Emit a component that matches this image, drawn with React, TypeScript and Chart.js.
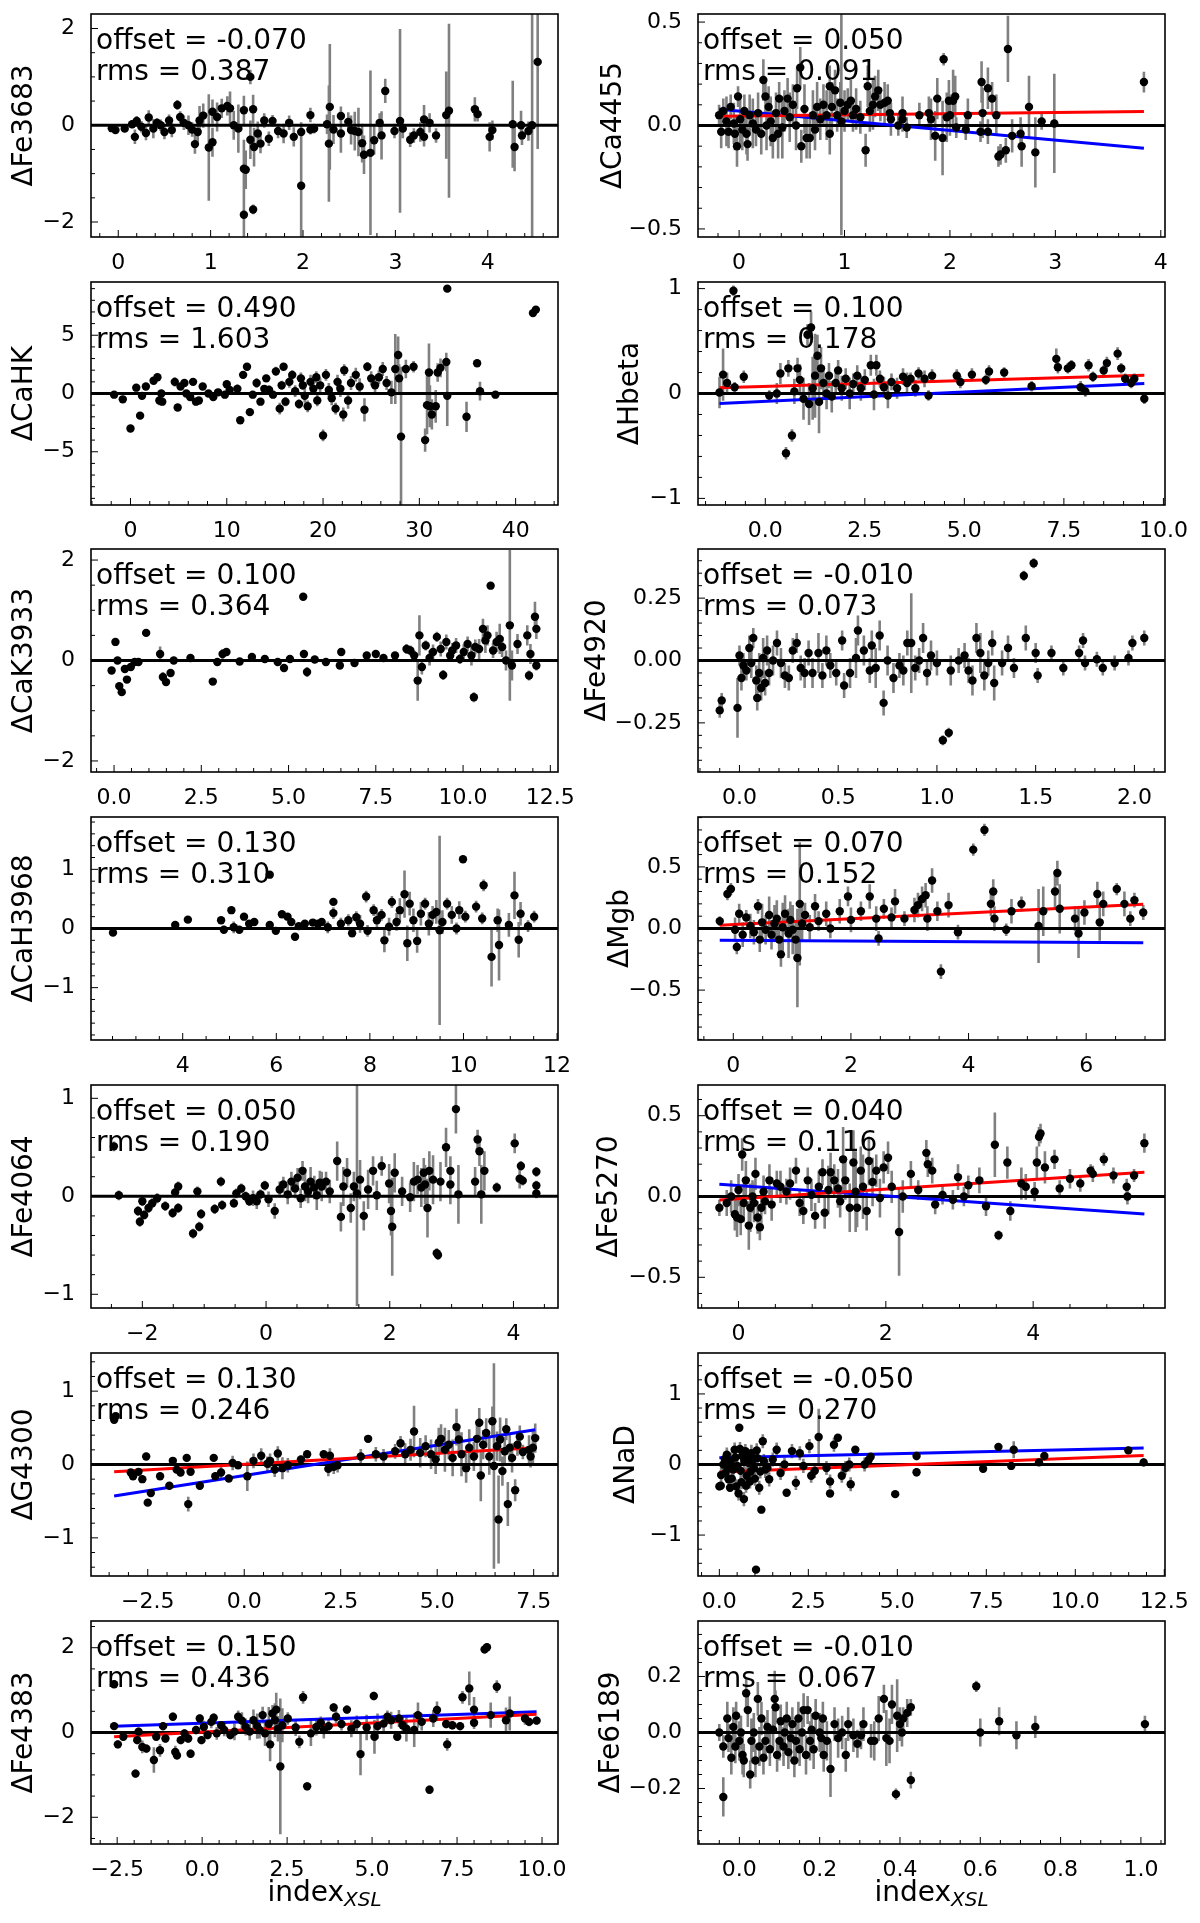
import { useEffect, useRef } from "react"
import { Chart, registerables } from "chart.js"

Chart.register(...registerables)

type Pt = [number, number, number]
type Seg = [number, number][]

const FONT = "'DejaVu Sans', sans-serif"

// [index, delta, error]
const fe3683: Pt[] = [[-0.07,-0.06,0.05],[-0.03,-0.1,0.06],[0.07,-0.07,0.05],[0.15,0.02,0.08],[0.18,-0.24,0.15],[0.2,0.09,0.1],[0.25,-0.03,0.12],[0.3,-0.16,0.15],[0.33,0.16,0.15],[0.38,-0.07,0.2],[0.42,0.05,0.1],[0.46,0,0.12],[0.5,-0.14,0.15],[0.55,0.1,0.12],[0.58,-0.1,0.15],[0.64,0.42,0.1],[0.67,0.17,0.12],[0.71,0.05,0.15],[0.76,0,0.2],[0.8,-0.09,0.15],[0.83,-0.39,0.2],[0.86,-0.14,0.2],[0.88,0.1,0.3],[0.92,0.2,0.25],[0.98,-0.46,1.1],[1.02,-0.35,0.3],[1.02,0.28,0.25],[1.07,0.17,0.3],[1.12,0.35,0.2],[1.18,0.4,0.2],[1.21,0.35,0.35],[1.25,0,0.3],[1.3,-0.07,0.5],[1.36,0.31,0.3],[1.36,-0.9,0.6],[1.36,-1.85,0.5],[1.38,-0.92,0.4],[1.43,1.0,0.15],[1.43,-0.3,0.4],[1.46,0.33,0.3],[1.46,-1.74,0.1],[1.47,-0.45,0.4],[1.51,-0.17,0.25],[1.54,-0.38,0.2],[1.58,0.1,0.15],[1.63,-0.28,0.15],[1.67,0.09,0.12],[1.73,-0.12,0.15],[1.79,-0.17,0.2],[1.85,0.05,0.15],[1.9,-0.24,0.2],[1.98,-1.25,1.2],[1.98,-0.14,0.2],[2.08,0.21,0.15],[2.08,-0.09,0.1],[2.12,-0.07,0.1],[2.26,0.02,0.2],[2.28,-0.38,1.2],[2.29,0.38,1.3],[2.33,-0.09,0.3],[2.41,0.19,0.2],[2.41,-0.17,0.4],[2.49,0.07,0.2],[2.52,-0.1,0.3],[2.56,-0.12,0.4],[2.6,-0.14,0.5],[2.64,-0.37,0.4],[2.66,-0.61,0.4],[2.73,-0.57,1.7],[2.77,-0.31,0.3],[2.83,0.05,0.2],[2.85,-0.21,0.5],[2.89,0.71,0.25],[2.99,-0.12,0.15],[3.05,0.09,1.9],[3.08,-0.07,0.2],[3.16,-0.3,0.15],[3.2,-0.21,0.15],[3.27,-0.14,0.2],[3.31,0.12,0.3],[3.31,-0.24,0.2],[3.37,0.05,0.2],[3.44,-0.21,0.15],[3.55,0.21,0.9],[3.58,0.3,1.8],[3.86,0.33,0.25],[3.89,0.23,0.15],[4.02,-0.24,0.3],[4.05,-0.1,0.2],[4.27,0.02,0.9],[4.29,-0.45,0.5],[4.36,0,0.3],[4.37,-0.21,0.2],[4.44,-0.12,0.2],[4.48,0,2.5],[4.54,1.31,1.8]]

const ca4455: Pt[] = [[-0.19,0.05,0.05],[-0.17,-0.03,0.08],[-0.15,0.07,0.06],[-0.12,0.02,0.12],[-0.1,-0.03,0.08],[-0.08,0.09,0.06],[-0.05,0.01,0.1],[-0.04,-0.04,0.08],[-0.02,-0.1,0.1],[-0.01,0.14,0.05],[0.01,0.03,0.12],[0.03,-0.02,0.1],[0.05,0.07,0.08],[0.07,-0.04,0.1],[0.08,-0.09,0.08],[0.1,0.05,0.1],[0.13,0.01,0.12],[0.16,-0.02,0.08],[0.18,0.06,0.1],[0.21,-0.04,0.1],[0.23,0.22,0.1],[0.25,0.14,0.08],[0.26,0,0.12],[0.28,0.09,0.1],[0.3,0.02,0.12],[0.32,-0.06,0.1],[0.35,0.06,0.1],[0.37,-0.04,0.12],[0.38,0.13,0.08],[0.41,-0.01,0.15],[0.43,0.07,0.1],[0.46,0.13,0.1],[0.48,0.04,0.12],[0.51,0.1,0.1],[0.54,0,0.12],[0.55,0.18,0.1],[0.58,0.28,0.1],[0.59,-0.1,0.08],[0.62,0.08,0.12],[0.64,-0.06,0.1],[0.67,-0.06,0.1],[0.7,0.05,0.12],[0.72,-0.02,0.1],[0.74,0.09,0.12],[0.77,0.03,0.1],[0.8,0.1,0.1],[0.83,0.05,0.12],[0.86,0.19,0.1],[0.86,-0.04,0.1],[0.88,0.09,0.12],[0.91,0.17,0.1],[0.93,0.05,0.08],[0.96,0.11,0.1],[0.97,0.02,0.55],[1.0,0.07,0.1],[1.03,0.1,0.08],[1.06,0.12,0.1],[1.08,0.05,0.08],[1.11,0.08,0.1],[1.15,0.04,0.08],[1.2,-0.12,0.08],[1.22,0.19,0.1],[1.24,0.07,0.1],[1.27,0.1,0.12],[1.29,0.14,0.1],[1.32,0.17,0.1],[1.34,0.1,0.08],[1.38,0.11,0.1],[1.41,0.12,0.08],[1.43,0.06,0.06],[1.44,0.03,0.08],[1.51,0,0.05],[1.55,0.06,0.08],[1.55,0.03,0.06],[1.59,-0.01,0.05],[1.71,0.05,0.06],[1.8,0.06,0.08],[1.82,0.03,0.1],[1.86,-0.05,0.12],[1.88,0.13,0.1],[1.93,-0.06,0.18],[1.94,0.32,0.03],[1.97,0.04,0.12],[1.99,0.12,0.1],[2.0,0.05,0.1],[2.03,0.12,0.15],[2.05,0.14,0.1],[2.06,-0.01,0.05],[2.15,-0.02,0.05],[2.17,0.05,0.08],[2.29,-0.03,0.05],[2.3,0.21,0.1],[2.31,0.06,0.12],[2.36,0.18,0.1],[2.36,-0.03,0.06],[2.4,0.13,0.08],[2.44,0.05,0.1],[2.46,-0.15,0.05],[2.48,-0.14,0.05],[2.53,-0.12,0.06],[2.55,0.37,0.16],[2.59,-0.05,0.08],[2.67,-0.04,0.08],[2.68,-0.1,0.1],[2.75,0.09,0.15],[2.81,-0.13,0.17],[2.87,0.02,0.04],[2.99,0.01,0.24],[3.84,0.21,0.05]]
const ca4455Red: Seg = [[-0.19, 0.045], [3.84, 0.068]]
const ca4455Blue: Seg = [[-0.19, 0.078], [3.84, -0.11]]

const caHK: Pt[] = [[-1.7,-0.1,0.2],[-0.8,-0.5,0.3],[0,-3.0,0.3],[0.6,0.5,0.3],[1.0,-1.9,0.3],[1.2,-0.2,0.3],[1.6,0.6,0.3],[2.4,1.1,0.3],[2.8,1.4,0.3],[3.0,-0.6,0.4],[3.2,0,0.3],[3.3,-0.7,0.3],[4.6,1.0,0.4],[4.9,-1.2,0.3],[5.2,0.6,0.3],[5.6,0.9,0.3],[5.8,0,0.3],[6.2,-0.3,0.3],[6.5,1.0,0.3],[6.8,-0.7,0.3],[7.1,-0.6,0.3],[7.5,0.6,0.3],[8.1,0,0.3],[8.6,-0.3,0.3],[9.1,0.1,0.3],[9.8,-0.1,0.3],[10.0,0.8,0.3],[10.3,0.3,0.3],[11.1,0.4,0.4],[11.4,-2.3,0.3],[11.7,1.6,0.3],[12.1,2.3,0.3],[12.4,-1.6,0.3],[12.7,-0.1,0.3],[13.1,0.9,0.4],[13.5,-0.7,0.3],[13.9,0.4,0.3],[14.1,1.3,0.3],[14.4,0.3,0.4],[14.8,-0.1,0.3],[15.1,1.9,0.4],[15.5,-1.3,0.5],[15.7,0.7,0.4],[15.9,2.3,0.3],[16.1,-0.7,0.4],[16.5,1.0,0.5],[16.8,1.6,0.4],[17.1,0.2,0.5],[17.5,-0.9,0.4],[17.7,1.3,0.5],[17.9,0.7,0.4],[18.1,-0.2,0.6],[18.4,-1.1,0.5],[18.7,1.0,0.6],[19.0,0.4,0.5],[19.3,1.4,0.5],[19.4,-0.6,0.5],[19.7,0.7,0.6],[20.0,-3.6,0.5],[20.3,1.6,0.5],[20.6,0.3,0.6],[20.9,-0.4,0.6],[21.3,-1.3,0.5],[21.5,1.0,0.6],[21.8,0.4,0.7],[22.1,-1.8,0.6],[22.2,2.0,0.5],[22.6,-0.6,0.7],[22.9,0.9,0.6],[23.4,1.6,0.6],[23.8,0.6,0.7],[24.3,-1.4,1.0],[24.6,2.3,0.4],[25.0,1.3,0.6],[25.4,0.7,0.8],[25.8,1.4,0.6],[26.2,2.1,0.6],[26.6,0.9,0.6],[27.1,0.1,1.0],[27.5,2.1,3.0],[27.8,3.3,1.6],[27.9,1.3,1.2],[28.1,-3.7,6.0],[28.6,2.1,0.8],[29.4,2.3,0.5],[30.6,-4.0,1.0],[30.8,-1.0,2.5],[31.0,1.8,2.5],[31.1,-1.1,1.8],[31.3,-1.8,1.3],[31.7,-1.1,1.4],[31.9,1.8,0.8],[32.2,2.2,0.8],[32.8,2.7,0.8],[32.9,-0.2,2.6],[32.9,9.0,0.3],[34.9,-2.0,1.3],[36.0,2.6,0.3],[36.3,0.2,0.8],[37.9,-0.1,0.3],[41.8,6.9,0.3],[42.1,7.2,0.3]]

const hbeta: Pt[] = [[-1.15,0.01,0.15],[-1.06,0.18,0.25],[-0.96,0.1,0.1],[-0.8,0.98,0.05],[-0.77,0.06,0.05],[-0.54,0.16,0.06],[0.1,-0.02,0.05],[0.29,0,0.1],[0.38,0.19,0.1],[0.52,-0.57,0.06],[0.58,0.24,0.08],[0.67,-0.4,0.06],[0.73,0.02,0.12],[0.81,0.24,0.1],[0.87,0.13,0.15],[0.96,-0.05,0.2],[1.06,0.56,0.1],[1.1,-0.1,0.2],[1.15,0.63,0.15],[1.19,0.05,0.3],[1.25,0.17,0.4],[1.31,0.36,0.2],[1.35,-0.08,0.3],[1.4,0.24,0.2],[1.46,0.1,0.15],[1.54,0,0.15],[1.6,0.17,0.12],[1.67,-0.03,0.15],[1.77,0.1,0.1],[1.83,0.22,0.1],[1.92,0.05,0.12],[2.02,0.14,0.1],[2.12,0,0.15],[2.21,0.09,0.1],[2.31,0.17,0.1],[2.4,0.05,0.12],[2.5,0.13,0.1],[2.65,0.27,0.1],[2.73,-0.01,0.15],[2.79,0.27,0.1],[2.88,0.14,0.08],[2.98,0.06,0.1],[3.08,-0.02,0.12],[3.17,0.11,0.08],[3.31,0.05,0.1],[3.46,0.16,0.08],[3.56,0.1,0.1],[3.65,0.14,0.06],[3.77,0.05,0.08],[3.85,0.19,0.06],[4.0,0.14,0.08],[4.1,-0.02,0.05],[4.19,0.17,0.06],[4.81,0.17,0.06],[4.9,0.11,0.06],[5.19,0.18,0.06],[5.54,0.13,0.05],[5.62,0.21,0.06],[6.0,0.2,0.05],[6.69,0.07,0.05],[7.31,0.33,0.1],[7.35,0.25,0.06],[7.6,0.24,0.05],[7.69,0.27,0.05],[7.92,0.06,0.06],[8.04,0.02,0.05],[8.12,0.27,0.06],[8.23,0.16,0.05],[8.5,0.22,0.05],[8.58,0.29,0.06],[8.85,0.38,0.06],[8.94,0.24,0.05],[9.04,0.14,0.05],[9.19,0.1,0.05],[9.27,0.14,0.05],[9.52,-0.05,0.05]]
const hbetaRed: Seg = [[-1.15, 0.054], [9.52, 0.175]]
const hbetaBlue: Seg = [[-1.15, -0.095], [9.52, 0.095]]

const caK3933: Pt[] = [[-0.07,-0.2,0.05],[0.04,0.37,0.05],[0.1,0,0.05],[0.15,-0.51,0.05],[0.22,-0.63,0.05],[0.31,-0.17,0.05],[0.37,-0.38,0.05],[0.48,-0.13,0.05],[0.59,-0.03,0.05],[0.7,-0.03,0.05],[0.92,0.55,0.05],[1.32,0.13,0.15],[1.4,-0.33,0.1],[1.49,-0.43,0.05],[1.62,-0.25,0.05],[1.71,0,0.05],[2.19,0.05,0.05],[2.83,-0.42,0.05],[2.96,-0.03,0.05],[3.11,0.13,0.1],[3.22,0.17,0.05],[3.6,-0.02,0.05],[3.95,0.07,0.05],[4.32,0.03,0.05],[4.69,-0.03,0.05],[4.87,-0.15,0.05],[5.04,0.03,0.05],[5.42,1.27,0.05],[5.44,0.13,0.05],[5.53,-0.23,0.1],[5.75,0.02,0.05],[6.07,-0.03,0.05],[6.47,-0.1,0.05],[6.51,0.17,0.05],[6.89,-0.05,0.05],[7.24,0.1,0.05],[7.5,0.13,0.05],[7.72,0.05,0.05],[8.05,0.1,0.05],[8.38,0.23,0.1],[8.49,0.2,0.1],[8.6,0.1,0.1],[8.7,-0.4,0.4],[8.75,0.5,0.4],[8.82,-0.13,0.15],[8.93,0.3,0.1],[9.04,0.05,0.15],[9.14,0.17,0.15],[9.25,0.47,0.1],[9.36,0.23,0.15],[9.43,-0.29,0.1],[9.52,0.37,0.15],[9.63,0.1,0.1],[9.69,0.2,0.15],[9.8,0.3,0.15],[9.91,0.03,0.1],[10.02,0.17,0.15],[10.13,0.33,0.15],[10.24,0.1,0.2],[10.31,-0.73,0.1],[10.35,0.27,0.15],[10.46,0.23,0.2],[10.57,0.63,0.2],[10.64,0.4,0.25],[10.7,0.5,0.2],[10.79,1.49,0.05],[10.86,0.2,0.15],[10.96,0.37,0.2],[11.05,0.43,0.3],[11.12,0.27,0.2],[11.23,0,0.2],[11.34,0.7,1.5],[11.4,-0.1,0.3],[11.56,0.33,0.2],[11.84,0.5,0.2],[11.89,-0.3,0.1],[11.93,0.13,0.2],[12.06,0.87,0.3],[12.1,0.63,0.2],[12.1,-0.1,0.1]]

const fe4920: Pt[] = [[-0.1,-0.2,0.03],[-0.09,-0.16,0.03],[-0.01,-0.19,0.12],[0,0.02,0.04],[0.01,-0.07,0.05],[0.02,-0.02,0.05],[0.035,-0.04,0.04],[0.05,0.05,0.05],[0.06,-0.01,0.06],[0.07,0.09,0.04],[0.085,-0.08,0.06],[0.09,-0.15,0.05],[0.1,-0.05,0.08],[0.11,-0.11,0.05],[0.12,0.01,0.08],[0.13,-0.09,0.05],[0.14,0.04,0.06],[0.15,-0.05,0.05],[0.17,0,0.06],[0.19,0.07,0.05],[0.21,-0.01,0.06],[0.23,-0.06,0.05],[0.25,-0.07,0.05],[0.27,0.04,0.05],[0.29,0.07,0.04],[0.31,-0.03,0.05],[0.33,-0.05,0.06],[0.35,0.03,0.05],[0.37,-0.05,0.06],[0.4,0.03,0.08],[0.42,-0.06,0.05],[0.44,0.04,0.06],[0.46,-0.02,0.05],[0.49,-0.05,0.05],[0.52,0.08,0.04],[0.53,-0.1,0.05],[0.56,-0.05,0.06],[0.59,0.01,0.08],[0.6,0.12,0.06],[0.63,0.04,0.06],[0.66,-0.04,0.05],[0.67,0.06,0.06],[0.69,-0.03,0.08],[0.71,0.1,0.06],[0.73,-0.17,0.05],[0.75,0,0.06],[0.78,-0.07,0.06],[0.81,-0.02,0.05],[0.83,-0.04,0.06],[0.85,0.07,0.05],[0.87,0.07,0.2],[0.89,-0.03,0.05],[0.91,0,0.05],[0.93,0.09,0.06],[0.95,-0.05,0.05],[0.97,0.02,0.06],[1.0,-0.01,0.05],[1.03,-0.32,0.02],[1.06,-0.29,0.02],[1.07,-0.04,0.06],[1.11,0,0.05],[1.14,0.02,0.05],[1.16,-0.04,0.05],[1.18,-0.08,0.06],[1.2,0.09,0.06],[1.22,0.03,0.08],[1.24,-0.06,0.06],[1.26,-0.01,0.05],[1.28,0.07,0.05],[1.29,-0.09,0.07],[1.33,-0.01,0.05],[1.36,0.05,0.05],[1.39,-0.03,0.04],[1.45,0.09,0.05],[1.44,0.34,0.02],[1.49,0.39,0.02],[1.5,0.03,0.04],[1.51,-0.06,0.03],[1.58,0.03,0.03],[1.64,-0.03,0.03],[1.72,0.03,0.03],[1.74,0.08,0.03],[1.75,-0.01,0.03],[1.81,0.005,0.03],[1.84,-0.03,0.03],[1.9,-0.01,0.03],[1.97,0.01,0.03],[1.99,0.07,0.03],[2.05,0.09,0.03]]

const caH3968: Pt[] = [[2.51,-0.07,0.05],[3.84,0.06,0.05],[4.11,0.15,0.05],[4.82,0.14,0.05],[4.88,-0.02,0.05],[5.04,0.31,0.05],[5.09,0.02,0.1],[5.21,-0.02,0.05],[5.31,0.2,0.05],[5.42,0.08,0.05],[5.53,0.11,0.05],[5.86,0.06,0.05],[5.86,0.91,0.05],[5.99,-0.04,0.05],[6.12,0.24,0.05],[6.24,0.2,0.05],[6.32,0.11,0.05],[6.4,-0.14,0.05],[6.48,0.04,0.05],[6.61,0.08,0.05],[6.78,0.1,0.05],[6.89,0.08,0.05],[6.97,0.11,0.05],[7.1,0.02,0.1],[7.22,0.45,0.05],[7.22,0.26,0.1],[7.38,0.08,0.1],[7.54,0.14,0.1],[7.62,-0.08,0.05],[7.71,0.19,0.1],[7.79,0.08,0.15],[7.92,0.54,0.1],[7.95,-0.04,0.1],[8.08,0.31,0.1],[8.15,0.14,0.15],[8.25,0.23,0.1],[8.31,-0.2,0.2],[8.41,0.03,0.15],[8.47,0.45,0.1],[8.57,0.11,0.15],[8.64,0.31,0.2],[8.74,0.58,0.4],[8.8,-0.25,0.3],[8.85,0.42,0.2],[8.93,0.14,0.2],[9.01,-0.21,0.2],[9.09,0.25,0.2],[9.18,0.42,0.1],[9.26,0.08,0.2],[9.34,0.23,0.15],[9.42,0.28,0.2],[9.49,-0.03,1.6],[9.55,0.11,0.2],[9.65,0.42,0.1],[9.75,0.23,0.15],[9.85,0,0.1],[9.91,0.31,0.15],[9.99,1.17,0.05],[10.04,0.2,0.1],[10.27,0.37,0.1],[10.4,0.17,0.1],[10.43,0.73,0.1],[10.6,-0.48,0.5],[10.73,0.14,0.2],[10.76,-0.28,0.6],[10.97,0.06,0.2],[11.09,0.56,0.4],[11.18,-0.19,0.3],[11.22,0.25,0.2],[11.38,0.04,0.1],[11.51,0.2,0.1]]

const mgb: Pt[] = [[-0.23,0.06,0.04],[-0.1,0.28,0.05],[-0.04,0.32,0.05],[0.03,-0.01,0.1],[0.06,-0.15,0.06],[0.1,0.12,0.08],[0.16,-0.05,0.1],[0.22,0.09,0.06],[0.29,0.02,0.1],[0.35,-0.03,0.1],[0.42,0.18,0.06],[0.45,-0.09,0.1],[0.49,0.05,0.15],[0.55,-0.01,0.12],[0.61,0.11,0.15],[0.65,-0.05,0.12],[0.7,0.04,0.15],[0.74,0.08,0.15],[0.78,-0.09,0.15],[0.81,-0.21,0.1],[0.84,0.01,0.2],[0.88,0.12,0.15],[0.94,-0.04,0.2],[0.97,0.07,0.15],[1.01,-0.01,0.2],[1.06,-0.09,0.15],[1.09,-0.24,0.4],[1.13,0.2,0.5],[1.17,0.04,0.15],[1.22,0.11,0.1],[1.3,0.01,0.1],[1.39,0.18,0.1],[1.45,0.06,0.08],[1.58,0.12,0.1],[1.65,0,0.08],[1.81,0.14,0.1],[1.95,0.26,0.08],[2.0,0.07,0.1],[2.17,0.14,0.08],[2.32,0.26,0.1],[2.43,0.08,0.1],[2.47,-0.08,0.06],[2.56,0.16,0.08],[2.69,0.09,0.08],[2.75,0.22,0.1],[2.91,0.08,0.06],[3.08,0.15,0.1],[3.14,0.19,0.1],[3.21,0.24,0.1],[3.27,0.27,0.1],[3.3,0.08,0.1],[3.38,0.39,0.1],[3.47,0.14,0.08],[3.53,-0.35,0.06],[3.66,0.19,0.1],[3.82,-0.03,0.06],[4.08,0.64,0.05],[4.27,0.8,0.05],[4.38,0.2,0.1],[4.42,0.3,0.1],[4.44,0.08,0.1],[4.64,-0.01,0.05],[4.73,0.14,0.1],[4.9,0.2,0.06],[5.19,0.02,0.3],[5.27,0.14,0.2],[5.47,0.3,0.15],[5.51,0.45,0.1],[5.55,0.16,0.2],[5.81,0.08,0.1],[5.87,-0.04,0.2],[5.97,0.13,0.1],[6.19,0.28,0.1],[6.23,0.05,0.15],[6.29,0.2,0.1],[6.52,0.32,0.05],[6.65,0.2,0.1],[6.75,0.08,0.06],[6.82,0.23,0.06],[6.97,0.13,0.06]]
const mgbRed: Seg = [[-0.23, 0.027], [6.97, 0.197]]
const mgbBlue: Seg = [[-0.23, -0.095], [6.97, -0.116]]

const fe4064: Pt[] = [[-2.46,0.51,0.05],[-2.38,0.01,0.05],[-2.07,-0.15,0.05],[-2.04,-0.26,0.05],[-2.0,-0.05,0.05],[-1.97,-0.19,0.05],[-1.9,-0.12,0.05],[-1.84,-0.07,0.05],[-1.76,-0.02,0.05],[-1.63,-0.1,0.05],[-1.51,-0.17,0.05],[-1.47,0.04,0.05],[-1.42,-0.12,0.05],[-1.42,0.1,0.05],[-1.18,-0.38,0.05],[-1.11,0.05,0.05],[-1.08,-0.31,0.05],[-1.05,-0.18,0.05],[-0.83,-0.13,0.05],[-0.73,0.15,0.05],[-0.71,-0.09,0.05],[-0.52,-0.07,0.05],[-0.48,0.03,0.05],[-0.4,0.08,0.05],[-0.33,0,0.05],[-0.27,-0.05,0.05],[-0.21,-0.02,0.08],[-0.15,-0.05,0.08],[-0.09,0.02,0.05],[-0.02,0.11,0.05],[0.04,-0.03,0.08],[0.14,-0.15,0.08],[0.22,0.07,0.08],[0.28,0.12,0.08],[0.35,0.02,0.1],[0.41,0.15,0.1],[0.47,0.08,0.1],[0.51,0.19,0.1],[0.56,-0.02,0.1],[0.59,0.26,0.1],[0.63,0.1,0.15],[0.68,0.05,0.12],[0.72,0.15,0.15],[0.78,0.09,0.12],[0.82,0.01,0.15],[0.87,0.14,0.12],[0.9,0.1,0.15],[0.97,0.15,0.1],[1.03,0.05,0.12],[1.15,0.36,0.2],[1.21,-0.21,0.15],[1.25,0.1,0.2],[1.31,0.24,0.15],[1.37,-0.12,0.15],[1.42,0.1,0.15],[1.47,0.03,1.15],[1.52,0.17,0.2],[1.58,-0.2,0.15],[1.65,0.07,0.2],[1.73,0.26,0.15],[1.79,0.01,0.15],[1.87,0.31,0.1],[1.99,0.13,0.2],[2.02,-0.15,0.25],[2.04,-0.31,0.5],[2.08,0.24,0.2],[2.2,0.05,0.15],[2.33,-0.01,0.15],[2.39,0.15,0.2],[2.45,0.17,0.15],[2.51,0.09,0.2],[2.55,0.24,0.15],[2.57,0.12,0.2],[2.61,-0.12,0.3],[2.64,0.26,0.2],[2.7,0.17,0.25],[2.76,-0.58,0.05],[2.78,-0.6,0.05],[2.82,0.15,0.2],[2.91,0.5,0.2],[2.98,0.26,0.15],[2.98,0.12,0.2],[3.07,0.89,0.25],[3.11,0.02,0.3],[3.38,0.15,0.15],[3.42,0.58,0.1],[3.45,0.46,0.15],[3.48,0.02,0.3],[3.53,0.26,0.2],[3.73,0.09,0.05],[4.02,0.54,0.1],[4.1,0.18,0.1],[4.12,0.31,0.05],[4.15,0.16,0.05],[4.37,0.25,0.05],[4.37,0.11,0.05],[4.37,0.03,0.05]]

const fe5270: Pt[] = [[-0.26,-0.07,0.05],[-0.16,-0.04,0.08],[-0.1,0,0.1],[-0.05,-0.11,0.1],[-0.02,-0.13,0.12],[0,0.04,0.1],[0.03,-0.14,0.1],[0.05,0.26,0.1],[0.07,-0.04,0.12],[0.1,0.1,0.12],[0.14,-0.18,0.15],[0.16,-0.07,0.15],[0.19,0,0.1],[0.21,-0.04,0.12],[0.23,0.14,0.1],[0.26,-0.13,0.1],[0.29,-0.19,0.08],[0.31,-0.07,0.1],[0.34,0.03,0.1],[0.36,-0.03,0.08],[0.42,0.1,0.1],[0.45,-0.05,0.1],[0.52,0.08,0.08],[0.57,0.06,0.1],[0.65,0.03,0.08],[0.7,0.08,0.1],[0.78,0.16,0.08],[0.83,-0.04,0.08],[0.88,-0.09,0.08],[0.94,0.1,0.08],[0.99,0.01,0.1],[1.04,-0.12,0.08],[1.09,0.06,0.1],[1.14,0.15,0.08],[1.17,-0.1,0.1],[1.22,0.04,0.15],[1.25,0.15,0.12],[1.3,0.1,0.1],[1.35,0.05,0.12],[1.38,-0.03,0.1],[1.42,0.23,0.2],[1.45,0.1,0.12],[1.51,-0.07,0.15],[1.56,0.21,0.2],[1.59,0.03,0.25],[1.61,-0.07,0.12],[1.66,0.16,0.15],[1.69,0.06,0.2],[1.74,-0.09,0.12],[1.77,0.22,0.15],[1.82,0.09,0.15],[1.87,0.16,0.1],[1.92,-0.01,0.12],[1.97,0.18,0.1],[2.03,0.24,0.1],[2.08,0.06,0.1],[2.18,-0.22,0.27],[2.23,0,0.1],[2.34,0.14,0.08],[2.44,0.04,0.06],[2.55,0.27,0.08],[2.57,0.2,0.08],[2.63,0.16,0.08],[2.67,-0.05,0.06],[2.77,0.01,0.06],[2.91,-0.02,0.06],[2.98,0.12,0.08],[3.06,0,0.06],[3.12,0.07,0.06],[3.27,0.1,0.08],[3.36,-0.06,0.06],[3.48,0.32,0.2],[3.53,-0.24,0.03],[3.65,0.21,0.1],[3.69,-0.09,0.06],[3.84,0.08,0.1],[3.9,0.06,0.08],[4.02,0.03,0.06],[4.05,0.21,0.1],[4.08,0.37,0.06],[4.1,0.39,0.06],[4.16,0.18,0.1],[4.29,0.23,0.06],[4.36,0.05,0.05],[4.5,0.11,0.06],[4.64,0.08,0.05],[4.78,0.16,0.04],[4.81,0.14,0.05],[4.96,0.23,0.04],[5.09,0.13,0.05],[5.27,0.06,0.05],[5.28,0,0.05],[5.37,0.13,0.04],[5.51,0.33,0.06]]
const fe5270Red: Seg = [[-0.26, -0.021], [5.51, 0.15]]
const fe5270Blue: Seg = [[-0.26, 0.076], [5.51, -0.109]]

const g4300: Pt[] = [[-3.37,0.61,0.05],[-3.33,0.66,0.05],[-2.94,-0.11,0.05],[-2.88,-0.16,0.05],[-2.74,-0.1,0.05],[-2.64,-0.2,0.05],[-2.54,0.11,0.05],[-2.5,-0.52,0.05],[-2.42,-0.39,0.05],[-2.18,-0.16,0.05],[-1.94,-0.29,0.05],[-1.85,0.05,0.05],[-1.75,-0.07,0.05],[-1.65,-0.11,0.05],[-1.49,0.09,0.05],[-1.45,-0.54,0.1],[-1.39,-0.1,0.05],[-1.15,-0.29,0.05],[-0.79,0.09,0.05],[-0.75,-0.16,0.05],[-0.6,-0.11,0.1],[-0.4,-0.19,0.05],[-0.3,0.02,0.1],[-0.16,-0.01,0.05],[0.08,-0.16,0.2],[0.24,0.05,0.1],[0.44,0.12,0.1],[0.6,0.01,0.1],[0.67,0.05,0.1],[0.79,-0.07,0.1],[0.87,0.15,0.1],[0.99,-0.05,0.15],[1.13,-0.01,0.1],[1.47,0.07,0.05],[1.63,0.14,0.05],[2.06,0.14,0.05],[2.18,-0.06,0.1],[2.22,0.12,0.1],[2.32,-0.03,0.1],[2.42,-0.01,0.1],[3.02,0.11,0.1],[3.21,0.35,0.05],[3.41,0.14,0.1],[3.61,0.11,0.1],[3.91,0.18,0.1],[4.05,0.29,0.1],[4.17,0.14,0.15],[4.31,0.2,0.15],[4.4,0.45,0.35],[4.56,0.16,0.2],[4.7,0.25,0.15],[4.84,0.14,0.2],[4.96,0.07,0.2],[5.04,0.3,0.2],[5.1,0.35,0.2],[5.2,0.2,0.3],[5.3,0.27,0.2],[5.4,0.09,0.25],[5.5,0.51,0.25],[5.56,0.34,0.2],[5.63,0.14,0.3],[5.75,-0.05,0.2],[5.83,0.23,0.25],[5.95,0.11,0.2],[6.03,0.35,0.25],[6.09,0.57,0.2],[6.13,-0.15,0.35],[6.19,0.27,0.2],[6.27,0.43,0.2],[6.35,0.11,0.25],[6.43,0.59,0.2],[6.47,-0.02,1.4],[6.55,0.25,0.2],[6.59,-0.75,0.6],[6.63,0.34,0.3],[6.69,-0.09,0.2],[6.75,0.18,0.2],[6.79,0.48,0.15],[6.83,-0.54,0.3],[6.88,0.23,0.2],[6.94,0.09,0.2],[7.02,-0.35,0.15],[7.08,0.27,0.15],[7.14,0.38,0.15],[7.22,0.17,0.1],[7.38,0.2,0.2],[7.42,0.11,0.15],[7.48,0.23,0.25],[7.54,0.36,0.2]]
const g4300Red: Seg = [[-3.37, -0.1], [7.54, 0.23]]
const g4300Blue: Seg = [[-3.37, -0.43], [7.54, 0.475]]

const naD: Pt[] = [[0,-0.31,0.06],[0.04,-0.3,0.06],[0.05,-0.15,0.1],[0.11,0,0.1],[0.15,0.08,0.1],[0.17,-0.12,0.1],[0.21,0.14,0.1],[0.24,-0.05,0.12],[0.26,-0.21,0.1],[0.3,-0.33,0.06],[0.32,0.05,0.12],[0.35,-0.2,0.1],[0.39,-0.07,0.1],[0.43,0.21,0.1],[0.45,0.1,0.12],[0.47,-0.31,0.1],[0.5,-0.02,0.1],[0.54,-0.41,0.1],[0.56,0.52,0.05],[0.58,0.22,0.1],[0.6,-0.09,0.12],[0.62,-0.25,0.1],[0.64,0.12,0.1],[0.69,-0.49,0.1],[0.7,0.05,0.12],[0.73,0.19,0.1],[0.75,-0.3,0.1],[0.77,-0.16,0.12],[0.8,0.1,0.1],[0.82,0.02,0.15],[0.86,-0.24,0.1],[0.88,-0.1,0.12],[0.9,0.16,0.12],[0.93,0.05,0.1],[0.97,-0.05,0.15],[1.0,-0.2,0.1],[1.03,-1.49,0.05],[1.05,0.2,0.1],[1.07,0.09,0.12],[1.12,-0.33,0.1],[1.15,-0.1,0.1],[1.18,-0.64,0.05],[1.22,0.33,0.1],[1.25,0.05,0.1],[1.29,-0.07,0.12],[1.35,-0.05,0.1],[1.4,-0.21,0.1],[1.5,0.07,0.1],[1.61,0.21,0.1],[1.72,-0.12,0.1],[1.83,0,0.1],[1.89,-0.4,0.05],[2.04,0.19,0.1],[2.15,-0.26,0.1],[2.26,0.16,0.1],[2.36,-0.02,0.1],[2.53,0.26,0.1],[2.58,-0.16,0.1],[2.68,-0.09,0.1],[2.79,0.39,0.4],[3.01,-0.05,0.1],[3.11,-0.24,0.1],[3.11,-0.41,0.05],[3.22,0.28,0.1],[3.33,0.38,0.05],[3.44,-0.16,0.1],[3.54,-0.05,0.1],[3.65,0,0.1],[3.69,-0.28,0.1],[3.82,0.21,0.05],[4.08,0,0.1],[4.19,0.06,0.1],[4.25,0.11,0.05],[4.94,-0.42,0.03],[5.54,0.12,0.06],[5.54,-0.11,0.06],[7.41,-0.06,0.05],[7.84,0.25,0.05],[8.2,-0.02,0.05],[8.27,0.21,0.12],[8.98,0.03,0.05],[9.13,0.12,0.05],[11.49,0.2,0.05],[11.92,0.03,0.06]]
const naDRed: Seg = [[0, -0.108], [11.92, 0.127]]
const naDBlue: Seg = [[0, 0.094], [11.92, 0.235]]

const fe4383: Pt[] = [[-2.59,1.14,0.1],[-2.59,0.15,0.05],[-2.48,-0.28,0.1],[-2.32,-0.1,0.1],[-1.96,-0.97,0.1],[-1.91,-0.18,0.1],[-1.87,0.02,0.1],[-1.76,-0.34,0.15],[-1.64,-0.38,0.1],[-1.42,-0.65,0.3],[-1.35,-0.1,0.1],[-1.24,-0.42,0.15],[-1.15,0.15,0.1],[-1.08,-0.14,0.1],[-0.86,0.37,0.1],[-0.79,-0.46,0.15],[-0.74,-0.54,0.1],[-0.63,-0.18,0.1],[-0.52,-0.02,0.1],[-0.41,-0.14,0.1],[-0.34,-0.5,0.1],[-0.18,0.06,0.1],[-0.07,0.33,0.1],[-0.02,-0.18,0.1],[0.05,0.13,0.15],[0.16,-0.06,0.1],[0.27,0.25,0.15],[0.34,0.35,0.1],[0.43,-0.02,0.15],[0.56,0.17,0.1],[0.65,0.06,0.15],[0.83,-0.06,0.1],[0.95,0.02,0.2],[1.06,0.37,0.15],[1.17,0.28,0.2],[1.28,0.13,0.2],[1.4,0.02,0.2],[1.51,0.29,0.25],[1.62,0.15,0.3],[1.69,0.06,0.2],[1.78,0.41,0.2],[1.85,-0.02,0.3],[1.96,0.2,0.4],[2.0,-0.28,0.4],[2.07,0.45,0.2],[2.14,0.29,0.4],[2.18,0.54,0.4],[2.23,0.09,0.3],[2.3,-0.8,1.6],[2.36,0.17,0.4],[2.52,0.33,0.15],[2.75,0.12,0.2],[2.86,-0.22,0.15],[2.97,0.83,0.15],[3.09,-1.27,0.1],[3.2,-0.02,0.3],[3.36,0.13,0.2],[3.49,0.23,0.15],[3.58,0.06,0.2],[3.72,0.15,0.15],[3.87,0.59,0.1],[3.94,0.37,0.15],[4.1,0.2,0.15],[4.26,0.54,0.1],[4.39,0.09,0.2],[4.55,0.2,0.2],[4.66,-0.51,0.5],[4.84,0.12,0.3],[5.05,0.86,0.1],[5.07,-0.1,0.4],[5.16,0.15,0.3],[5.34,0.21,0.2],[5.45,0.37,0.15],[5.56,0.29,0.2],[5.74,-0.1,0.1],[5.79,0.33,0.2],[5.9,0.17,0.2],[6.01,0.09,0.3],[6.24,0.06,0.4],[6.35,0.41,0.3],[6.46,0.25,0.2],[6.69,-1.35,0.1],[6.8,0.33,0.2],[6.91,0.53,0.2],[7.18,0.2,0.1],[7.21,-0.28,0.15],[7.36,0.17,0.1],[7.59,0.15,0.1],[7.66,0.83,0.15],[7.86,1.04,0.4],[8.0,0.23,0.15],[8.0,0.54,0.3],[8.31,1.96,0.1],[8.38,2.01,0.1],[8.49,0.41,0.3],[8.67,1.08,0.15],[8.94,0.29,0.3],[9.05,0.45,0.4],[9.5,0.33,0.15],[9.62,0.25,0.1],[9.84,0.28,0.1]]
const fe4383Red: Seg = [[-2.59, -0.1], [9.84, 0.43]]
const fe4383Blue: Seg = [[-2.59, 0.15], [9.84, 0.49]]

const fe6189: Pt[] = [[-0.05,0,0.03],[-0.04,-0.05,0.04],[-0.04,-0.23,0.07],[-0.03,0.05,0.06],[-0.027,-0.02,0.05],[-0.02,-0.09,0.06],[-0.015,0.02,0.07],[-0.01,-0.05,0.06],[-0.008,0.06,0.05],[0,-0.03,0.07],[0.004,0,0.06],[0.008,-0.08,0.07],[0.011,-0.1,0.06],[0.017,0.14,0.05],[0.021,0.08,0.06],[0.027,-0.15,0.05],[0.03,-0.03,0.08],[0.036,0,0.07],[0.04,-0.1,0.06],[0.046,0.12,0.06],[0.05,-0.05,0.07],[0.055,0.05,0.06],[0.06,-0.09,0.06],[0.065,-0.03,0.07],[0.07,0.02,0.06],[0.076,-0.06,0.06],[0.084,0.01,0.07],[0.088,0.12,0.1],[0.09,0.09,0.06],[0.094,-0.08,0.06],[0.1,-0.03,0.07],[0.103,0.04,0.06],[0.11,-0.05,0.07],[0.113,0,0.06],[0.118,0.05,0.06],[0.122,-0.07,0.06],[0.128,-0.02,0.07],[0.132,0.03,0.06],[0.137,-0.1,0.06],[0.141,-0.03,0.07],[0.147,0.05,0.06],[0.15,-0.06,0.06],[0.156,0,0.07],[0.16,0.08,0.06],[0.166,-0.08,0.07],[0.17,0.08,0.05],[0.176,-0.03,0.07],[0.18,0.01,0.06],[0.185,-0.06,0.07],[0.19,0.06,0.06],[0.2,0,0.07],[0.204,-0.02,0.07],[0.208,0.05,0.06],[0.21,-0.08,0.06],[0.218,-0.03,0.07],[0.227,-0.13,0.1],[0.237,0.03,0.06],[0.246,-0.02,0.07],[0.256,0,0.06],[0.265,-0.08,0.06],[0.271,0.03,0.06],[0.284,-0.01,0.06],[0.294,-0.04,0.05],[0.303,-0.01,0.05],[0.309,0.03,0.06],[0.328,-0.03,0.06],[0.336,-0.03,0.07],[0.347,0.05,0.08],[0.36,0.12,0.05],[0.366,-0.02,0.1],[0.374,-0.03,0.08],[0.38,0.1,0.07],[0.39,-0.22,0.02],[0.393,0.06,0.13],[0.4,0.03,0.06],[0.405,0,0.05],[0.408,0.05,0.04],[0.418,0.07,0.05],[0.427,-0.17,0.03],[0.427,0.09,0.03],[0.59,0.165,0.02],[0.6,0,0.05],[0.647,0.04,0.05],[0.69,-0.01,0.05],[0.737,0.02,0.04],[1.01,0.03,0.03]]

interface Panel {
  label: string
  offset: string
  rms: string
  points: Pt[]
  red?: Seg
  blue?: Seg
  row: number
  col: number
  xMin: number
  xMax: number
  xStep: number
  xMinor: number
  xDec: number
  yMin: number
  yMax: number
  yStep: number
  yMinor: number
  yDec: number
  titlePad: number
}

const panels: Panel[] = [
  { label: "ΔFe3683", offset: "-0.070", rms: "0.387", points: fe3683, row: 0, col: 0, xMin: -0.295, xMax: 4.76, xStep: 1, xMinor: 0.2, xDec: 0, yMin: -2.31, yMax: 2.3, yStep: 2, yMinor: 0.5, yDec: 0, titlePad: 8 },
  { label: "ΔCa4455", offset: "0.050", rms: "0.091", points: ca4455, red: ca4455Red, blue: ca4455Blue, row: 0, col: 1, xMin: -0.39, xMax: 4.04, xStep: 1, xMinor: 0.2, xDec: 0, yMin: -0.539, yMax: 0.539, yStep: 0.5, yMinor: 0.1, yDec: 1, titlePad: 17 },
  { label: "ΔCaHK", offset: "0.490", rms: "1.603", points: caHK, row: 1, col: 0, xMin: -4.1, xMax: 44.4, xStep: 10, xMinor: 2, xDec: 0, yMin: -9.57, yMax: 9.57, yStep: 5, yMinor: 1, yDec: 0, titlePad: 8 },
  { label: "ΔHbeta", offset: "0.100", rms: "0.178", points: hbeta, red: hbetaRed, blue: hbetaBlue, row: 1, col: 1, xMin: -1.69, xMax: 10.04, xStep: 2.5, xMinor: 0.5, xDec: 1, yMin: -1.063, yMax: 1.063, yStep: 1, yMinor: 0.2, yDec: 0, titlePad: 34 },
  { label: "ΔCaK3933", offset: "0.100", rms: "0.364", points: caK3933, row: 2, col: 0, xMin: -0.66, xMax: 12.72, xStep: 2.5, xMinor: 0.5, xDec: 1, yMin: -2.22, yMax: 2.22, yStep: 2, yMinor: 0.5, yDec: 0, titlePad: 8 },
  { label: "ΔFe4920", offset: "-0.010", rms: "0.073", points: fe4920, row: 2, col: 1, xMin: -0.21, xMax: 2.155, xStep: 0.5, xMinor: 0.1, xDec: 1, yMin: -0.447, yMax: 0.447, yStep: 0.25, yMinor: 0.05, yDec: 2, titlePad: 1 },
  { label: "ΔCaH3968", offset: "0.130", rms: "0.310", points: caH3968, row: 3, col: 0, xMin: 2.04, xMax: 12.02, xStep: 2, xMinor: 0.5, xDec: 0, yMin: -1.885, yMax: 1.885, yStep: 1, yMinor: 0.2, yDec: 0, titlePad: 8 },
  { label: "ΔMgb", offset: "0.070", rms: "0.152", points: mgb, red: mgbRed, blue: mgbBlue, row: 3, col: 1, xMin: -0.6, xMax: 7.34, xStep: 2, xMinor: 0.5, xDec: 0, yMin: -0.905, yMax: 0.905, yStep: 0.5, yMinor: 0.1, yDec: 1, titlePad: 24 },
  { label: "ΔFe4064", offset: "0.050", rms: "0.190", points: fe4064, row: 4, col: 0, xMin: -2.83, xMax: 4.72, xStep: 2, xMinor: 0.5, xDec: 0, yMin: -1.14, yMax: 1.136, yStep: 1, yMinor: 0.2, yDec: 0, titlePad: 8 },
  { label: "ΔFe5270", offset: "0.040", rms: "0.116", points: fe5270, red: fe5270Red, blue: fe5270Blue, row: 4, col: 1, xMin: -0.55, xMax: 5.79, xStep: 2, xMinor: 0.5, xDec: 0, yMin: -0.69, yMax: 0.69, yStep: 0.5, yMinor: 0.1, yDec: 1, titlePad: 13 },
  { label: "ΔG4300", offset: "0.130", rms: "0.246", points: g4300, red: g4300Red, blue: g4300Blue, row: 5, col: 0, xMin: -3.97, xMax: 8.13, xStep: 2.5, xMinor: 0.5, xDec: 1, yMin: -1.52, yMax: 1.52, yStep: 1, yMinor: 0.2, yDec: 0, titlePad: 8 },
  { label: "ΔNaD", offset: "-0.050", rms: "0.270", points: naD, red: naDRed, blue: naDBlue, row: 5, col: 1, xMin: -0.6, xMax: 12.52, xStep: 2.5, xMinor: 0.5, xDec: 1, yMin: -1.58, yMax: 1.58, yStep: 1, yMinor: 0.2, yDec: 0, titlePad: 30 },
  { label: "ΔFe4383", offset: "0.150", rms: "0.436", points: fe4383, red: fe4383Red, blue: fe4383Blue, row: 6, col: 0, xMin: -3.27, xMax: 10.47, xStep: 2.5, xMinor: 0.5, xDec: 1, yMin: -2.63, yMax: 2.63, yStep: 2, yMinor: 0.5, yDec: 0, titlePad: 8 },
  { label: "ΔFe6189", offset: "-0.010", rms: "0.067", points: fe6189, row: 6, col: 1, xMin: -0.103, xMax: 1.06, xStep: 0.2, xMinor: 0.05, xDec: 1, yMin: -0.398, yMax: 0.398, yStep: 0.2, yMinor: 0.05, yDec: 1, titlePad: 15 },
]

const ROW_TOPS = [14, 282, 549, 817, 1085, 1353, 1621]
const PLOT_H = 223
const PAD_TOP = 10
const X_AXIS_H = 40
const COLS = [
  { canvasLeft: 0, plotLeft: 91, plotRight: 558, width: 600 },
  { canvasLeft: 580, plotLeft: 698, plotRight: 1165, width: 620 },
]

const fmt = (v: number, d: number) => {
  const s = Math.abs(v) < 1e-9 ? (0).toFixed(d) : v.toFixed(d)
  return s.replace("-", "\u2212")
}

function drawTicks(ctx: CanvasRenderingContext2D, scale: any, step: number, minor: number, horizontal: boolean, a: any) {
  const k0 = Math.ceil(scale.min / minor - 1e-6)
  const k1 = Math.floor(scale.max / minor + 1e-6)
  for (let k = k0; k <= k1; k++) {
    const v = k * minor
    const r = v / step
    const len = Math.abs(r - Math.round(r)) < 1e-6 ? 7 : 4
    const px = scale.getPixelForValue(v)
    ctx.beginPath()
    if (horizontal) {
      ctx.moveTo(px, a.bottom)
      ctx.lineTo(px, a.bottom - len)
    } else {
      ctx.moveTo(a.left, px)
      ctx.lineTo(a.left + len, px)
    }
    ctx.stroke()
  }
}

function PanelChart({ p }: { p: Panel }) {
  const ref = useRef<HTMLCanvasElement | null>(null)
  const col = COLS[p.col]
  const height = PAD_TOP + PLOT_H + X_AXIS_H

  useEffect(() => {
    if (!ref.current) return

    const errorBars = p.points.flatMap(([x, y, e]) => [
      { x, y: y - e },
      { x, y: y + e },
      { x, y: null },
    ])

    const datasets: any[] = [
      {
        type: "scatter",
        data: p.points.map(([x, y]) => ({ x, y })),
        pointRadius: 4.2,
        pointHoverRadius: 4.2,
        backgroundColor: "#000000",
        borderColor: "#000000",
        borderWidth: 0,
        order: 0,
      },
    ]
    if (p.red) {
      datasets.push({
        type: "line",
        data: p.red.map(([x, y]) => ({ x, y })),
        borderColor: "#ff0000",
        borderWidth: 3,
        pointRadius: 0,
        order: 1,
      })
    }
    if (p.blue) {
      datasets.push({
        type: "line",
        data: p.blue.map(([x, y]) => ({ x, y })),
        borderColor: "#0000ff",
        borderWidth: 3,
        pointRadius: 0,
        order: 1,
      })
    }
    datasets.push({
      type: "line",
      data: [
        { x: p.xMin, y: 0 },
        { x: p.xMax, y: 0 },
      ],
      borderColor: "#000000",
      borderWidth: 3,
      pointRadius: 0,
      order: 2,
    })
    datasets.push({
      type: "line",
      data: errorBars,
      borderColor: "#808080",
      borderWidth: 2.6,
      pointRadius: 0,
      spanGaps: false,
      order: 3,
    })

    const decor = {
      id: "decor",
      afterDraw(chart: any) {
        const { ctx, chartArea: a } = chart
        ctx.save()
        ctx.strokeStyle = "#000000"
        ctx.lineWidth = 1
        drawTicks(ctx, chart.scales.x, p.xStep, p.xMinor, true, a)
        drawTicks(ctx, chart.scales.y, p.yStep, p.yMinor, false, a)
        ctx.lineWidth = 1.6
        ctx.strokeRect(a.left, a.top, a.right - a.left, a.bottom - a.top)
        ctx.fillStyle = "#000000"
        ctx.font = `28px ${FONT}`
        ctx.textAlign = "left"
        ctx.textBaseline = "alphabetic"
        ctx.fillText(`offset = ${p.offset}`, a.left + 5, a.top + 35)
        ctx.fillText(`rms = ${p.rms}`, a.left + 5, a.top + 66)
        ctx.restore()
      },
    }

    const chart = new Chart(ref.current, {
      type: "scatter",
      data: { datasets },
      options: {
        animation: false,
        responsive: false,
        maintainAspectRatio: false,
        layout: {
          padding: {
            top: PAD_TOP,
            left: 0,
            bottom: 0,
            right: col.width - (col.plotRight - col.canvasLeft),
          },
        },
        plugins: {
          legend: { display: false },
          tooltip: { enabled: false },
        },
        scales: {
          x: {
            type: "linear",
            min: p.xMin,
            max: p.xMax,
            grid: { display: false },
            border: { display: false },
            ticks: {
              stepSize: p.xStep,
              includeBounds: false,
              autoSkip: false,
              maxRotation: 0,
              padding: 5,
              color: "#000000",
              font: { family: FONT, size: 22 },
              callback: (v: any) => fmt(Number(v), p.xDec),
            },
            afterFit: (s: any) => {
              s.height = X_AXIS_H
              s.paddingLeft = 0
              s.paddingRight = 0
            },
          },
          y: {
            type: "linear",
            min: p.yMin,
            max: p.yMax,
            grid: { display: false },
            border: { display: false },
            title: {
              display: true,
              text: p.label,
              color: "#000000",
              font: { family: FONT, size: 28 },
              padding: { top: p.titlePad, bottom: 0 },
            },
            ticks: {
              stepSize: p.yStep,
              includeBounds: false,
              autoSkip: false,
              padding: 8,
              color: "#000000",
              font: { family: FONT, size: 22 },
              callback: (v: any) => fmt(Number(v), p.yDec),
            },
            afterFit: (s: any) => {
              s.width = col.plotLeft - col.canvasLeft
              s.paddingTop = 0
              s.paddingBottom = 0
            },
          },
        },
      } as any,
      plugins: [decor],
    })

    return () => {
      chart.destroy()
    }
  }, [p])

  return (
    <canvas
      ref={ref}
      width={col.width}
      height={height}
      style={{
        position: "absolute",
        left: col.canvasLeft,
        top: ROW_TOPS[p.row] - PAD_TOP,
        width: col.width,
        height,
      }}
    />
  )
}

export default function App() {
  return (
    <div
      style={{
        position: "absolute",
        left: 0,
        top: 0,
        width: 1200,
        height: 1923,
        background: "#ffffff",
        overflow: "hidden",
      }}
    >
      {panels.map((p) => (
        <PanelChart key={p.label} p={p} />
      ))}
      {COLS.map((c, i) => (
        <div
          key={i}
          style={{
            position: "absolute",
            left: c.plotLeft,
            width: c.plotRight - c.plotLeft,
            top: 1878,
            textAlign: "center",
            fontFamily: FONT,
            fontSize: 28,
            lineHeight: "28px",
            color: "#000000",
          }}
        >
          index
          <span style={{ fontSize: 20, fontStyle: "italic", position: "relative", top: 5 }}>XSL</span>
        </div>
      ))}
    </div>
  )
}
